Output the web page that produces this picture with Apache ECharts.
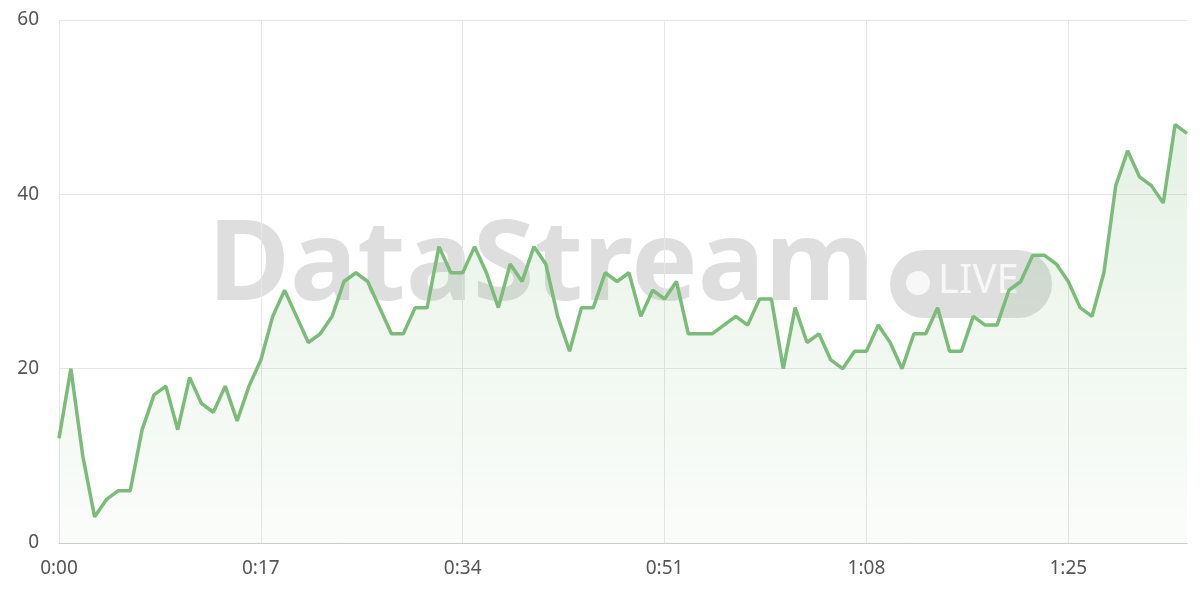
<!DOCTYPE html>
<html>
<head>
<meta charset="UTF-8">
<script src="https://cdn.jsdelivr.net/npm/echarts@6/dist/echarts.min.js"></script>
<style>body{margin:0;background:#fff}#main{width:1200px;height:600px}</style>
</head>
<body>
<div id="main"></div>
<script>
var values = [12,20,10,3,5,6,6,13,17,18,13,19,16,15,18,14,18,21,26,29,26,23,24,26,30,31,30,27,24,24,
  27,27,34,31,31,34,31,27,32,30,34,32,26,22,27,27,31,30,31,26,29,28,30,24,24,24,25,26,25,28,
  28,20,27,23,24,21,20,22,22,25,23,20,24,24,27,22,22,26,25,25,29,30,33,33,32,30,27,26,31,41,
  45,42,41,39,48,47];
var labels = values.map(function (v, i) {
  var s = i % 60;
  return Math.floor(i / 60) + ':' + (s < 10 ? '0' : '') + s;
});

var chart = echarts.init(document.getElementById('main'));
chart.setOption({
  animation: false,
  grid: {left: 59, right: 13, top: 20, bottom: 57},
  graphic: [
    {type: 'text', left: 208, top: 212, z: 0, silent: true,
      style: {text: 'DataStream', font: 'bold 112px "Noto Sans", sans-serif', fill: 'rgba(0,0,0,0.13)'}},
    {type: 'rect', left: 890, top: 250, z: 0, silent: true,
      shape: {width: 162, height: 68, r: 34}, style: {fill: 'rgba(0,0,0,0.13)'}},
    {type: 'circle', left: 906, top: 271, z: 1, silent: true,
      shape: {r: 12}, style: {fill: 'rgba(255,255,255,0.75)'}},
    {type: 'text', left: 938, top: 262, z: 1, silent: true,
      style: {text: 'LIVE', font: '40px "Noto Sans", sans-serif', fill: 'rgba(255,255,255,0.75)'}}
  ],
  xAxis: {
    type: 'category', data: labels, boundaryGap: false,
    axisLine: {lineStyle: {color: '#ccc'}},
    axisTick: {show: false},
    axisLabel: {interval: 16, color: '#555', fontSize: 19, margin: 16, fontFamily: 'Noto Sans'},
    splitLine: {show: true, interval: 16, lineStyle: {color: '#e6e6e6'}}
  },
  yAxis: {
    type: 'value', min: 0, max: 60, interval: 20,
    axisLabel: {color: '#555', fontSize: 19, margin: 20, fontFamily: 'Noto Sans'},
    splitLine: {lineStyle: {color: '#e6e6e6'}}
  },
  series: [{
    type: 'line', data: values, symbol: 'none',
    lineStyle: {color: '#7cbb7a', width: 3.5},
    areaStyle: {color: new echarts.graphic.LinearGradient(0, 0, 0, 1, [
      {offset: 0, color: 'rgba(124,187,122,0.28)'},
      {offset: 1, color: 'rgba(124,187,122,0.05)'}
    ])}
  }]
});
</script>
</body>
</html>
